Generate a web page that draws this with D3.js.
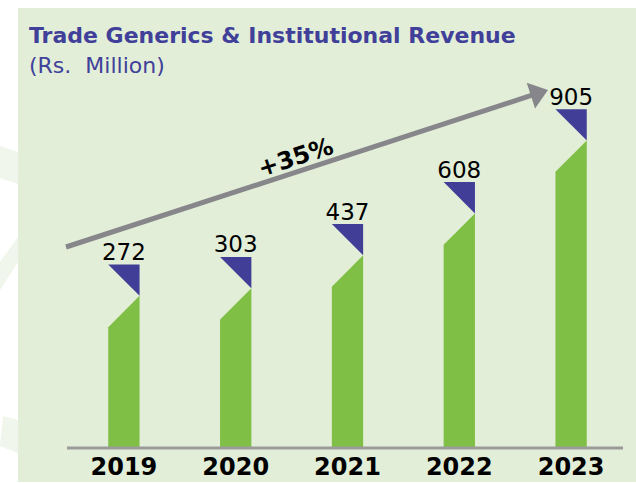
<!DOCTYPE html>
<meta charset="utf-8">
<head>
    <script type="text/javascript" src="https://cdn.jsdelivr.net/npm/d3@7"></script>
    <style>
        body { margin: 0; background: #fff; }
        text { font-family: "DejaVu Sans", Verdana, sans-serif; }
    </style>
</head>
<body>
<div id="chart"></div>
</body>
<script>
    // data
    var years = ["2019", "2020", "2021", "2022", "2023"];
    var revenue = [272, 303, 437, 608, 905];
    var growthLabel = "+35%";
    var title = "Trade Generics & Institutional Revenue";
    var subtitle = "(Rs.  Million)";

    var width = 636, height = 483;
    var baseY = 447;

    var svg = d3.select("#chart").append("svg")
        .attr("width", width)
        .attr("height", height);

    // slide background bits on the left
    var deco = [
        [[0, 146], [18, 152], [18, 184], [0, 178]],
        [[0, 262], [18, 237], [18, 262], [0, 290]],
        [[3, 416], [18, 420], [18, 453], [0, 446]]
    ];
    svg.selectAll(".deco").data(deco).enter().append("polygon")
        .attr("points", d => d.join(" "))
        .attr("fill", "#f0f6eb");

    // panel
    svg.append("rect")
        .attr("x", 18).attr("y", 8)
        .attr("width", width - 18).attr("height", 474)
        .attr("fill", "#e2eed7");

    svg.append("text")
        .attr("x", 29).attr("y", 43)
        .attr("fill", "#40409a")
        .style("font-weight", "bold")
        .style("font-size", "22px")
        .text(title);
    svg.append("text")
        .attr("x", 29).attr("y", 73)
        .attr("fill", "#40409a")
        .style("font-size", "22px")
        .style("white-space", "pre")
        .text(subtitle);

    // scales (bars in the slide are not to scale, linear fit with offset)
    var x = d3.scaleBand()
        .domain(years)
        .range([68, 627])
        .paddingInner(0.72)
        .paddingOuter(0.36);
    var y = d3.scaleLinear()
        .domain([-344, 950])
        .range([baseY, 129.5]);

    var bw = x.bandwidth();
    var rows = years.map((yr, i) => ({year: yr, value: revenue[i]}));

    // green bars with chamfered top
    svg.selectAll(".bar").data(rows).enter().append("polygon")
        .attr("class", "bar")
        .attr("fill", "#80bf45")
        .attr("points", d => {
            var x0 = x(d.year), x1 = x0 + bw, t = y(d.value);
            return [[x0, baseY], [x0, t + bw], [x1, t], [x1, baseY]].join(" ");
        });

    // blue triangles
    svg.selectAll(".tri").data(rows).enter().append("polygon")
        .attr("class", "tri")
        .attr("fill", "#413e98")
        .attr("points", d => {
            var x0 = x(d.year), x1 = x0 + bw, t = y(d.value);
            return [[x0, t - bw], [x1, t - bw], [x1, t]].join(" ");
        });

    // value labels
    svg.selectAll(".val").data(rows).enter().append("text")
        .attr("x", d => x(d.year) + bw / 2)
        .attr("y", d => y(d.value) - bw - 4.5)
        .attr("text-anchor", "middle")
        .attr("fill", "#000")
        .style("font-size", "23px")
        .text(d => d.value);

    // baseline + year labels
    svg.append("line")
        .attr("x1", 67).attr("x2", 623)
        .attr("y1", baseY + 1).attr("y2", baseY + 1)
        .attr("stroke", "#9b9b9b")
        .attr("stroke-width", 3);
    svg.selectAll(".yr").data(years).enter().append("text")
        .attr("x", d => x(d) + bw / 2)
        .attr("y", 475)
        .attr("text-anchor", "middle")
        .attr("fill", "#000")
        .style("font-weight", "bold")
        .style("font-size", "24px")
        .text(d => d);

    // growth arrow
    var a0 = [66, 247], a1 = [548, 90];
    var ang = Math.atan2(a1[1] - a0[1], a1[0] - a0[0]);
    var ux = Math.cos(ang), uy = Math.sin(ang);
    var headLen = 18, headW = 13.5;
    var back = [a1[0] - ux * headLen, a1[1] - uy * headLen];
    svg.append("line")
        .attr("x1", a0[0]).attr("y1", a0[1])
        .attr("x2", back[0] + ux * 2).attr("y2", back[1] + uy * 2)
        .attr("stroke", "#87878b")
        .attr("stroke-width", 5);
    svg.append("polygon")
        .attr("fill", "#87878b")
        .attr("points", [a1,
            [back[0] + uy * headW, back[1] - ux * headW],
            [back[0] - uy * headW, back[1] + ux * headW]].join(" "));

    svg.append("text")
        .attr("transform", "translate(298,165) rotate(" + (ang * 180 / Math.PI) + ")")
        .attr("text-anchor", "middle")
        .attr("fill", "#000")
        .style("font-weight", "bold")
        .style("font-size", "24px")
        .text(growthLabel);
</script>
</html>
